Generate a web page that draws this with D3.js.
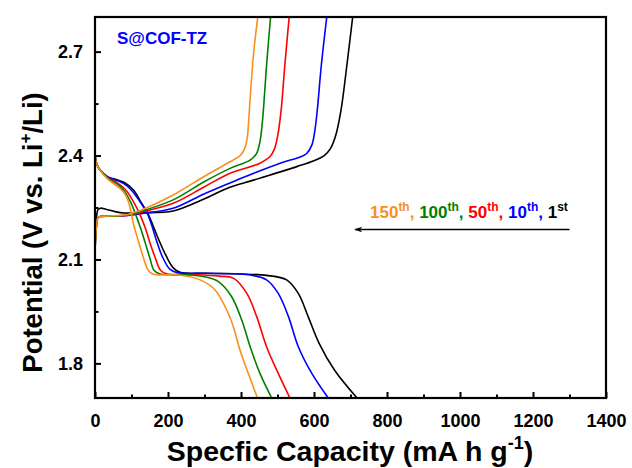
<!DOCTYPE html>
<html>
<head>
<meta charset="utf-8">
<script src="https://cdn.jsdelivr.net/npm/d3@7/dist/d3.min.js"></script>
<style>
  body { margin: 0; background: #fff; }
  text { font-family: "Liberation Sans", Arial, sans-serif; font-weight: bold; }
</style>
</head>
<body>
<div class="wrapper"></div>
<script>
const WIDTH = 632
const HEIGHT = 468
const margin = {left: 95, right: 26, top: 17, bottom: 70}

// cycles, drawn back to front
var cycles = ['1st', '10th', '50th', '100th', '150th']
var colors = ['#000000', '#0000ff', '#ff0000', '#008000', '#f7901e']

var xTicks = [0, 200, 400, 600, 800, 1000, 1200, 1400]
var xMinor = [100, 300, 500, 700, 900, 1100, 1300]
var yTicks = [1.8, 2.1, 2.4, 2.7]
var yMinor = [1.95, 2.25, 2.55]

// [capacity mA h g-1, potential V]
var discharge1st = [[0,2.40],[5,2.375],[14,2.358],[35,2.338],[60,2.33],[80,2.322],[106,2.30],[125,2.267],[145,2.232],[160,2.195],[175,2.156],[195,2.11],[215,2.075],[235,2.062],[300,2.06],[400,2.058],[470,2.054],[525,2.041],[557,2.002],[584,1.935],[614,1.858],[656,1.781],[718,1.70]]
var discharge10th = [[0,2.40],[5,2.375],[14,2.358],[35,2.338],[60,2.328],[80,2.318],[100,2.30],[123,2.267],[142,2.236],[155,2.20],[168,2.156],[185,2.107],[205,2.072],[225,2.062],[300,2.06],[420,2.056],[470,2.041],[502,2.002],[530,1.935],[557,1.848],[594,1.771],[639,1.70]]
var discharge50th = [[0,2.40],[5,2.375],[14,2.358],[35,2.336],[60,2.322],[85,2.30],[108,2.262],[125,2.225],[138,2.19],[150,2.15],[165,2.105],[180,2.068],[198,2.058],[280,2.056],[340,2.052],[379,2.046],[416,2.002],[443,1.935],[470,1.848],[502,1.771],[534,1.70]]
var discharge100th = [[0,2.40],[5,2.375],[14,2.358],[35,2.334],[60,2.318],[80,2.298],[98,2.265],[112,2.228],[125,2.19],[137,2.15],[150,2.105],[162,2.068],[178,2.058],[250,2.056],[300,2.05],[338,2.036],[374,1.993],[402,1.925],[425,1.848],[452,1.771],[484,1.70]]
var discharge150th = [[0,2.40],[5,2.375],[14,2.358],[35,2.332],[60,2.312],[78,2.295],[90,2.272],[98,2.24],[106,2.20],[118,2.156],[132,2.107],[146,2.068],[160,2.057],[230,2.055],[288,2.041],[329,2.012],[361,1.954],[379,1.906],[397,1.839],[420,1.771],[445,1.70]]

var charge1st = [[0,2.15],[3,2.205],[8,2.243],[15,2.248],[30,2.245],[55,2.238],[80,2.234],[130,2.235],[214,2.24],[300,2.275],[361,2.305],[434,2.329],[553,2.368],[600,2.385],[628,2.40],[645,2.42],[660,2.46],[674,2.531],[690,2.66],[706,2.8]]
var charge10th = [[0,2.12],[3,2.185],[8,2.22],[15,2.224],[50,2.225],[90,2.227],[130,2.233],[214,2.248],[300,2.29],[388,2.329],[507,2.378],[560,2.395],[580,2.406],[594,2.43],[602,2.47],[609,2.531],[620,2.66],[635,2.8]]
var charge50th = [[0,2.12],[3,2.185],[8,2.22],[15,2.224],[50,2.225],[90,2.228],[125,2.236],[214,2.262],[300,2.31],[370,2.349],[452,2.378],[480,2.398],[492,2.42],[501,2.46],[510,2.531],[520,2.66],[532,2.8]]
var charge100th = [[0,2.12],[3,2.185],[8,2.22],[15,2.224],[50,2.225],[90,2.229],[120,2.237],[214,2.272],[300,2.325],[370,2.363],[425,2.387],[442,2.405],[451,2.435],[457,2.48],[462,2.54],[470,2.66],[481,2.8]]
var charge150th = [[0,2.12],[3,2.185],[8,2.22],[15,2.224],[50,2.226],[90,2.23],[115,2.238],[160,2.258],[214,2.286],[306,2.344],[370,2.382],[398,2.4],[410,2.42],[417,2.45],[421,2.5],[426,2.58],[435,2.70],[446,2.8]]

var discharges = [discharge1st, discharge10th, discharge50th, discharge100th, discharge150th]
var charges = [charge1st, charge10th, charge50th, charge100th, charge150th]

var svg = d3.select(".wrapper")
    .append("svg")
    .attr("width", WIDTH)
    .attr("height", HEIGHT)

var x = d3.scaleLinear([0, 1400], [margin.left, WIDTH - margin.right])
var y = d3.scaleLinear([1.7, 2.8], [HEIGHT - margin.bottom, margin.top])

svg.append("clipPath").attr("id", "plot")
  .append("rect")
  .attr("x", x(0)).attr("y", y(2.8))
  .attr("width", x(1400) - x(0)).attr("height", y(1.7) - y(2.8))

var line = d3.line()
    .x(d => x(d[0]))
    .y(d => y(d[1]))
    .curve(d3.curveCatmullRom.alpha(0.5))

var curves = svg.append("g").attr("clip-path", "url(#plot)")
cycles.forEach(function(c, i) {
	curves.append("path")
	  .datum(discharges[i])
	  .attr("d", line)
	  .attr("fill", "none")
	  .attr("stroke", colors[i])
	  .attr("stroke-width", 1.6)
	curves.append("path")
	  .datum(charges[i])
	  .attr("d", line)
	  .attr("fill", "none")
	  .attr("stroke", colors[i])
	  .attr("stroke-width", 1.6)
})

// axes, ticks inward
var xAxis = svg.append("g")
    .attr("transform", `translate(0,${y(1.7)})`)
    .call(d3.axisBottom(x).tickValues(xTicks).tickSizeInner(-6).tickSizeOuter(0).tickPadding(16).tickFormat(d3.format("d")))
xAxis.selectAll("text").style("font-size", "18px").attr("fill", "#000")
svg.append("g")
    .attr("transform", `translate(0,${y(1.7)})`)
    .call(d3.axisBottom(x).tickValues(xMinor).tickSizeInner(-3.5).tickSizeOuter(0).tickFormat(""))

var yAxis = svg.append("g")
    .attr("transform", `translate(${x(0)},0)`)
    .call(d3.axisLeft(y).tickValues(yTicks).tickSizeInner(-6).tickSizeOuter(0).tickPadding(12).tickFormat(d3.format(".1f")))
yAxis.selectAll("text").style("font-size", "18px").attr("fill", "#000")
svg.append("g")
    .attr("transform", `translate(${x(0)},0)`)
    .call(d3.axisLeft(y).tickValues(yMinor).tickSizeInner(-3.5).tickSizeOuter(0).tickFormat(""))

svg.selectAll(".domain").remove()
svg.selectAll(".tick line").attr("stroke", "#000").attr("stroke-width", 2)

svg.append("rect")
  .attr("x", x(0)).attr("y", y(2.8))
  .attr("width", x(1400) - x(0)).attr("height", y(1.7) - y(2.8))
  .attr("fill", "none")
  .attr("stroke", "#000")
  .attr("stroke-width", 2.2)

// axis titles
var xt = svg.append("text")
  .attr("x", 350)
  .attr("y", 461)
  .attr("text-anchor", "middle")
  .style("font-size", "28.5px")
xt.append("tspan").text("Specfic Capacity (mA h g")
xt.append("tspan").attr("dy", -12).style("font-size", "18px").text("-1")
xt.append("tspan").attr("dy", 12).text(")")

var yt = svg.append("text")
  .attr("transform", `translate(42,${(y(1.7) + y(2.8)) / 2 + 25}) rotate(-90)`)
  .attr("text-anchor", "middle")
  .style("font-size", "27.5px")
yt.append("tspan").text("Potential (V vs. Li")
yt.append("tspan").attr("dy", -11).style("font-size", "17px").text("+")
yt.append("tspan").attr("dy", 11).text("/Li)")

svg.append("text")
  .attr("x", 117).attr("y", 44)
  .attr("fill", "#0000ff")
  .style("font-size", "17px")
  .text("S@COF-TZ")

// cycle legend, newest first
var legendParts = [
	{t: '150', s: 'th', c: colors[4]},
	{t: '100', s: 'th', c: colors[3]},
	{t: '50', s: 'th', c: colors[2]},
	{t: '10', s: 'th', c: colors[1]},
	{t: '1', s: 'st', c: colors[0]}
]
var lg = svg.append("text")
  .attr("x", 370).attr("y", 218)
  .style("font-size", "17px")
legendParts.forEach(function(p, i) {
	lg.append("tspan").attr("fill", p.c).text(p.t)
	lg.append("tspan").attr("fill", p.c).attr("dy", -7).style("font-size", "12px").text(p.s)
	if (i < legendParts.length - 1)
		lg.append("tspan").attr("fill", p.c).attr("dy", 7).text(", ")
})

svg.append("defs").append("marker")
  .attr("id", "arrow")
  .attr("viewBox", "0 0 10 10")
  .attr("refX", 9).attr("refY", 5)
  .attr("markerWidth", 8).attr("markerHeight", 8)
  .attr("markerUnits", "userSpaceOnUse")
  .attr("orient", "auto")
  .append("path")
  .attr("d", "M0,1.5 L10,5 L0,8.5 L3,5 Z")
  .attr("fill", "#000")

svg.append("line")
  .attr("x1", x(1300)).attr("x2", 355)
  .attr("y1", 229.5).attr("y2", 229.5)
  .attr("stroke", "#000")
  .attr("stroke-width", 1.5)
  .attr("marker-end", "url(#arrow)")
</script>
</body>
</html>
